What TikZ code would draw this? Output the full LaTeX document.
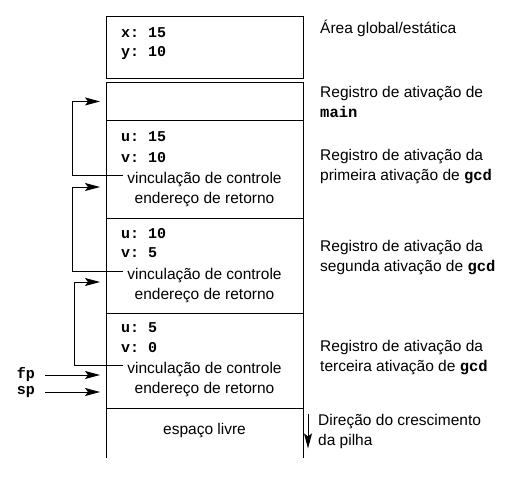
\documentclass[tikz,border=0pt]{standalone}
\usepackage{fontspec}
\setmainfont{Liberation Sans}
\setmonofont{Liberation Mono}
\usepackage{tikz}
\usetikzlibrary{arrows.meta,positioning,calc}
\newcommand{\mono}[1]{{\ttfamily\bfseries #1}}
\tikzstyle{frame} = [draw, line width=0.9pt, minimum width=197pt, anchor=north west, inner sep=0pt]
\tikzstyle{wall}  = [draw, line width=0.9pt]
\tikzstyle{var}   = [anchor=west, inner sep=0pt, font=\fontsize{15}{20}\selectfont\ttfamily\bfseries]
\tikzstyle{info}  = [inner sep=0pt]
\tikzstyle{lbl}   = [anchor=west, align=left, inner sep=0pt]
\tikzstyle{link}  = [draw, line width=0.9pt, -{Stealth[length=15pt,width=8pt,inset=3pt]}]

\begin{document}
\begin{tikzpicture}[x=1pt, y=-1pt, font=\fontsize{15.5}{20}\selectfont]
\useasboundingbox (0,0) rectangle (521,478);

% frames =============================
\node[frame, minimum height=62pt] (glob) at (106,16) {};
\node[frame, minimum height=38pt] (mainrec) at (106,82) {};
\node[frame, minimum height=98pt] (gcd1) at (106,120) {};
\node[frame, minimum height=95pt] (gcd2) at (106,218) {};
\node[frame, minimum height=95pt] (gcd3) at (106,313) {};
\path[wall] (gcd3.south west) -- ++(0,49);
\path[wall] (gcd3.south east) -- ++(0,49);

% contents
\node[var] (x) at (121,33) {x: 15};
\node[var] (y) at (121,53) {y: 10};

\node[var] (u1) at (121,137) {u: 15};
\node[var] (v1) at (121,158) {v: 10};
\node[info] (link1) at (204.5,180) {vinculação de controle};
\node[info] (ret1) at (204.5,200) {endereço de retorno};

\node[var] (u2) at (121,234) {u: 10};
\node[var] (v2) at (121,253) {v: 5};
\node[info] (link2) at (204.5,276) {vinculação de controle};
\node[info] (ret2) at (204.5,296) {endereço de retorno};

\node[var] (u3) at (121,328) {u: 5};
\node[var] (v3) at (121,348) {v: 0};
\node[info] (link3) at (204.5,370) {vinculação de controle};
\node[info] (ret3) at (204.5,390) {endereço de retorno};

\node[info] (free) at (204.5,431) {espaço livre};

% labels
\node[lbl] (glab) at (320,28) {Área global/estática};
\node[lbl] (mlab) at (320,102) {Registro de ativação de\\\mono{main}};
\node[lbl] (lab1) at (320,167) {Registro de ativação da\\primeira ativação de \mono{gcd}};
\node[lbl] (lab2) at (320,258) {Registro de ativação da\\segunda ativação de \mono{gcd}};
\node[lbl] (lab3) at (320,358) {Registro de ativação da\\terceira ativação de \mono{gcd}};
\node[lbl] (dir) at (318,431) {Direção do crescimento\\da pilha};

% pointers
\coordinate (fpin) at ($(gcd3.west |- link3.west)+(-6,5)$);
\coordinate (spin) at ($(gcd3.west |- ret3.west)+(-6,2)$);
\node[var, left=65pt of fpin] (fp) {fp};
\node[var, left=65pt of spin] (sp) {sp};

% edges
\path[link] ($(link1.west)+(-4,-5)$) -- ++(-51,0) |- ($(mainrec.west)+(-6,0)$);
\path[link] ($(link2.west)+(-4,-5)$) -- ++(-51,0) |- ($(gcd1.west |- link1.west)+(-6,7)$);
\path[link] ($(link3.west)+(-4,-5)$) -- ++(-49,0) |- ($(gcd2.west |- link2.west)+(-6,6)$);
\path[link, shorten <=10pt] (fp) -- (fpin);
\path[link, shorten <=10pt] (sp) -- (spin);
\path[link] ([xshift=-10pt]dir.north west) -- ([xshift=-10pt]dir.south west);

\end{tikzpicture}
\end{document}
